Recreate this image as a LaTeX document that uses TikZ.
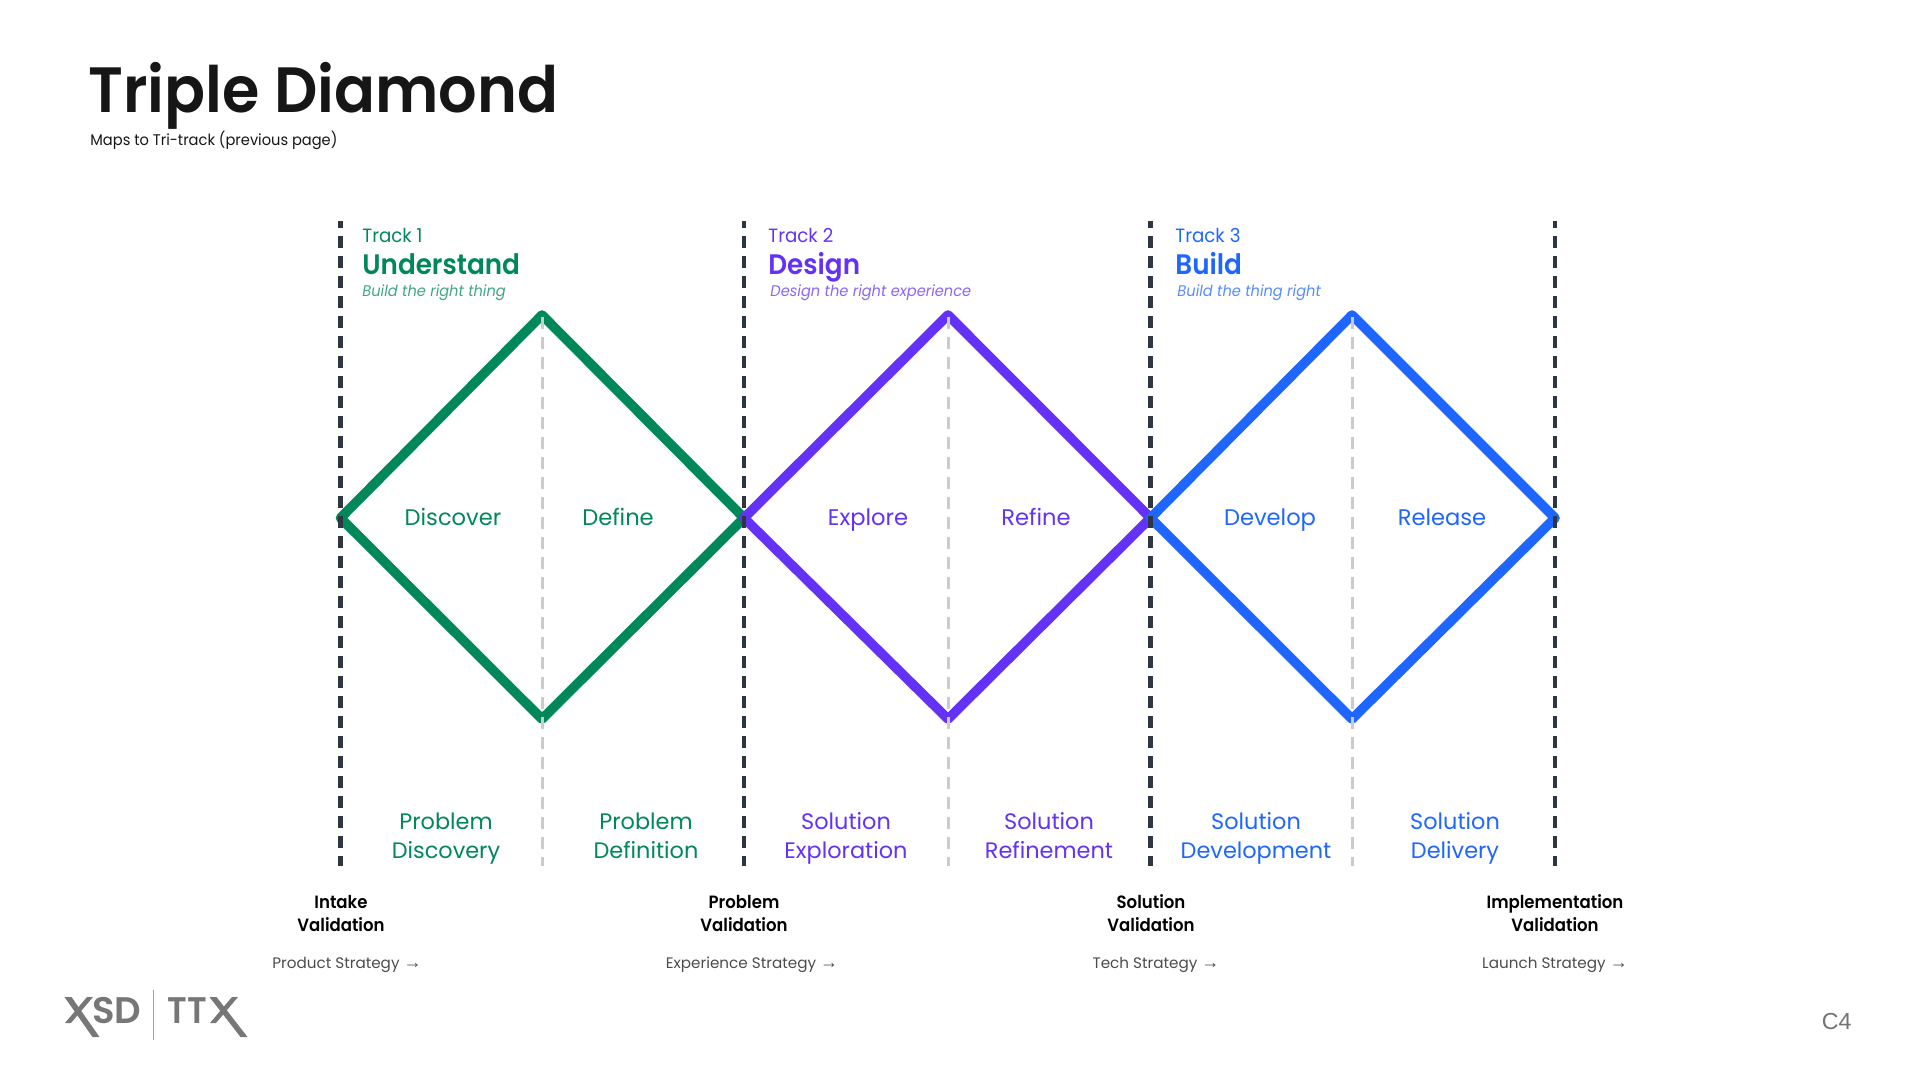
\documentclass[tikz,border=0pt]{standalone}
\usepackage{fontspec}
\setmainfont{Poppins}
\newfontfamily\arrowfont{Liberation Sans}
\newfontfamily\pagefont{Liberation Sans}
\newfontfamily\semi[FakeStretch=0.93]{Poppins SemiBold}
\newfontfamily\titlefont[FakeStretch=0.945]{Poppins SemiBold}
\newfontfamily\narrow[FakeStretch=0.95,ItalicFont=Poppins Italic]{Poppins}
\newfontfamily\semilogo{Poppins SemiBold}
\newfontfamily\ttlogo[FakeStretch=0.92]{Poppins SemiBold}
\definecolor{tgreen}{HTML}{00875A}
\definecolor{tviolet}{HTML}{6332F6}
\definecolor{tblue}{HTML}{1F66FF}
\definecolor{darkdash}{HTML}{2E3642}
\definecolor{lightdash}{HTML}{C8CBCF}
\definecolor{titleink}{HTML}{161616}
\definecolor{logogrey}{HTML}{777777}
\tikzset{
 x=0.5pt,y=-0.5pt,
 gate/.style={draw=darkdash,line width=2.2pt,dash pattern=on 6pt off 4pt,dash phase=2.5pt},
 mid/.style={draw=lightdash,line width=1.5pt,dash pattern=on 6pt off 4pt},
 dia/.style={line width=4.8pt,line join=round},
 tracklab/.style={anchor=base west,inner sep=0,font=\narrow\fontsize{9.6}{11}\selectfont},
 trackname/.style={anchor=base west,inner sep=0,font=\semi\fontsize{14.1}{16}\selectfont},
 trackmotto/.style={anchor=base west,inner sep=0,font=\narrow\fontsize{7.7}{9}\selectfont\itshape},
 phase/.style={anchor=base,inner sep=0,font=\fontsize{11.3}{14}\selectfont},
 stage/.style={align=center,inner sep=0,font=\fontsize{11.2}{14.5}\selectfont},
 check/.style={align=center,inner sep=0,text=black,font=\semi\fontsize{8.9}{11.6}\selectfont},
 strat/.style={inner sep=0,text=black!70,font=\fontsize{7.6}{10}\selectfont},
}
\newcommand{\arr}{{\arrowfont\fontsize{9}{10}\selectfont →}}
\newcommand{\logoslash}[5]{\fill[logogrey] (#1-#5,#2) -- (#1+#5,#2) -- (#3+#5,#4) -- (#3-#5,#4) -- cycle;}
\begin{document}
\begin{tikzpicture}
\useasboundingbox (0,0) rectangle (1920,1080);
\node[anchor=base west,inner sep=0,text=titleink,font=\titlefont\fontsize{32}{36}\selectfont] (title) at (88,113) {Triple Diamond};
\node[anchor=base west,inner sep=0,text=titleink,font=\narrow\fontsize{7.7}{10}\selectfont] (sub) at (90,146) {Maps to Tri-track (previous page)};
% diamonds
\foreach \n/\x in {a/340.5,b/744,c/1150.5,d/1555}{
  \coordinate (\n t) at (\x,221); \coordinate (\n m) at (\x,518); \coordinate (\n b) at (\x,866);
}
\foreach \n/\x in {p/542,q/948,r/1352}{
  \coordinate (\n t) at (\x,315); \coordinate (\n b) at (\x,719);
  \coordinate (\n s) at (\x,317); \coordinate (\n e) at (\x,866);
}
\draw[dia,tgreen] (am) -- (pt) -- (bm) -- (pb) -- cycle;
\draw[dia,tviolet] (bm) -- (qt) -- (cm) -- (qb) -- cycle;
\draw[dia,tblue] (cm) -- (rt) -- (dm) -- (rb) -- cycle;
% guides
\foreach \n in {a,b,c,d}{\draw[gate] (\n t) -- (\n b);}
\foreach \n in {p,q,r}{\draw[mid] (\n s) -- (\n e);}
% track heads
\node[tracklab,text=tgreen] (t1) at (362,243) {Track 1};
\node[trackname,text=tgreen] (n1) at (362,274.5) {Understand};
\node[trackmotto,text=tgreen!75] (m1) at (362,297) {Build the right thing};
\node[tracklab,text=tviolet] (t2) at (768,243) {Track 2};
\node[trackname,text=tviolet] (n2) at (768,274.5) {Design};
\node[trackmotto,text=tviolet!75] (m2) at (770,297) {Design the right experience};
\node[tracklab,text=tblue] (t3) at (1175,243) {Track 3};
\node[trackname,text=tblue] (n3) at (1175,274.5) {Build};
\node[trackmotto,text=tblue!75] (m3) at (1177,297) {Build the thing right};
% phases
\node[phase,text=tgreen] (ph1) at (453,525) {Discover};
\node[phase,text=tgreen] (ph2) at (618,525) {Define};
\node[phase,text=tviolet] (ph3) at (868,525) {Explore};
\node[phase,text=tviolet] (ph4) at (1036,525) {Refine};
\node[phase,text=tblue] (ph5) at (1270,525) {Develop};
\node[phase,text=tblue] (ph6) at (1442,525) {Release};
% stages
\node[stage,text=tgreen] (s1) at (446,838) {Problem\strut\\Discovery\strut};
\node[stage,text=tgreen] (s2) at (646,838) {Problem\strut\\Definition\strut};
\node[stage,text=tviolet] (s3) at (846,838) {Solution\strut\\Exploration\strut};
\node[stage,text=tviolet] (s4) at (1049,838) {Solution\strut\\Refinement\strut};
\node[stage,text=tblue] (s5) at (1256,838) {Solution\strut\\Development\strut};
\node[stage,text=tblue] (s6) at (1455,838) {Solution\strut\\Delivery\strut};
% validation
\node[check] (v1) at (341,915) {Intake\strut\\Validation\strut};
\node[check] (v2) at (744,915) {Problem\strut\\Validation\strut};
\node[check] (v3) at (1151,915) {Solution\strut\\Validation\strut};
\node[check] (v4) at (1555,915) {Implementation\strut\\Validation\strut};
\node[strat] (st1) at (347,965) {Product Strategy \arr};
\node[strat] (st2) at (752,965) {Experience Strategy \arr};
\node[strat] (st3) at (1156,965) {Tech Strategy \arr};
\node[strat] (st4) at (1555,965) {Launch Strategy \arr};
% logo
\logoslash{68}{997}{96}{1037}{3.5}
\logoslash{90}{997}{68}{1023}{3}
\node[anchor=base west,inner sep=0,text=logogrey,font=\semilogo\fontsize{18.5}{20}\selectfont] (lg1) at (92,1023) {SD};
\draw[lightdash!80!black,line width=0.8pt] (153.5,990) -- (153.5,1040);
\node[anchor=base west,inner sep=0,text=logogrey,font=\ttlogo\fontsize{18.5}{20}\selectfont] (lg2) at (167,1023) {TT};
\logoslash{213}{997}{244}{1037}{3.5}
\logoslash{235}{997}{213}{1023}{3}
\node[anchor=east,inner sep=0,text=black!55,font=\pagefont\fontsize{11.6}{12}\selectfont] (pg) at (1852,1022) {C4};
\end{tikzpicture}
\end{document}
